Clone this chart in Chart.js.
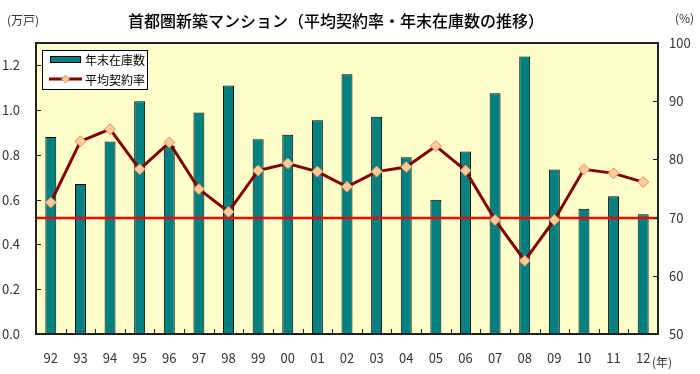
<!DOCTYPE html>
<html>
<head>
<meta charset="utf-8">
<script src="https://cdn.jsdelivr.net/npm/chart.js@4.4.1/dist/chart.umd.min.js"></script>
<style>
  html, body { margin: 0; padding: 0; background: #fff; }
  #wrap { width: 700px; height: 374px; }
</style>
</head>
<body>
<div id="wrap"><canvas id="chart" width="700" height="374"></canvas></div>
<script>
// data
const years = ['92','93','94','95','96','97','98','99','00','01','02','03','04','05','06','07','08','09','10','11','12'];
const stock = [0.88, 0.67, 0.86, 1.04, 0.84, 0.99, 1.11, 0.87, 0.89, 0.955, 1.16, 0.97, 0.79, 0.60, 0.815, 1.075, 1.24, 0.735, 0.56, 0.615, 0.535];
const rate = [72.6, 83.1, 85.2, 78.3, 82.9, 74.9, 71.0, 78.1, 79.3, 77.9, 75.3, 77.9, 78.7, 82.3, 78.1, 69.6, 62.6, 69.6, 78.3, 77.6, 76.1];
const leftTicks = [0, 0.2, 0.4, 0.6, 0.8, 1.0, 1.2];
const rightTicks = [50, 60, 70, 80, 90, 100];
const refRate = 70;

const title = '首都圏新築マンション（平均契約率・年末在庫数の推移）';
const stockLabel = '年末在庫数';
const rateLabel = '平均契約率';

const FONT = "'Noto Sans CJK JP', 'Noto Sans', sans-serif";
const teal = '#008080';
const maroon = '#800000';
const peach = '#FFCC99';

const extras = {
  id: 'extras',
  beforeDraw(chart) {
    const { ctx, chartArea: a } = chart;
    ctx.save();
    ctx.fillStyle = '#FFFFCC';
    ctx.fillRect(a.left, a.top, a.right - a.left, a.bottom - a.top);
    ctx.restore();
  },
  afterDatasetDraw(chart, args) {
    if (args.index !== 0) return;
    // reference line at 70%
    const { ctx, chartArea: a } = chart;
    const y = Math.round(chart.scales.y1.getPixelForValue(refRate));
    ctx.save();
    ctx.strokeStyle = '#FF0000';
    ctx.lineWidth = 2.5;
    ctx.beginPath();
    ctx.moveTo(a.left, y);
    ctx.lineTo(a.right, y);
    ctx.stroke();
    ctx.restore();
  },
  afterDraw(chart) {
    const { ctx, chartArea: a } = chart;
    const sx = chart.scales.x, sy = chart.scales.y, sy1 = chart.scales.y1;
    ctx.save();
    // plot frame
    ctx.strokeStyle = '#222';
    ctx.lineWidth = 2;
    ctx.strokeRect(a.left, a.top, a.right - a.left, a.bottom - a.top);
    // inward tick marks
    ctx.lineWidth = 1;
    ctx.beginPath();
    leftTicks.forEach(v => {
      const y = Math.round(sy.getPixelForValue(v)) + 0.5;
      ctx.moveTo(a.left, y); ctx.lineTo(a.left + 5, y);
    });
    rightTicks.forEach(v => {
      const y = Math.round(sy1.getPixelForValue(v)) + 0.5;
      ctx.moveTo(a.right, y); ctx.lineTo(a.right - 5, y);
    });
    for (let i = 1; i < years.length; i++) {
      const x = Math.round((sx.getPixelForValue(i - 1) + sx.getPixelForValue(i)) / 2) + 0.5;
      ctx.moveTo(x, a.bottom); ctx.lineTo(x, a.bottom - 5);
    }
    ctx.stroke();

    // title and unit labels
    ctx.fillStyle = '#000';
    ctx.textBaseline = 'middle';
    ctx.textAlign = 'center';
    ctx.font = '500 16px ' + FONT;
    ctx.fillText(title, 336, 21);
    ctx.fillStyle = '#333';
    ctx.font = '12px ' + FONT;
    ctx.textAlign = 'left';
    ctx.fillText('(万戸)', 7, 20);
    ctx.fillText('(%)', 675, 18);
    ctx.fillText('(年)', 652, 362);

    // legend box
    ctx.fillStyle = '#fff';
    ctx.fillRect(42, 50, 105, 39);
    ctx.strokeStyle = '#000';
    ctx.lineWidth = 1;
    ctx.strokeRect(42.5, 50.5, 105, 39);
    ctx.fillStyle = teal;
    ctx.fillRect(50, 56, 30, 6);
    ctx.strokeRect(50.5, 56.5, 30, 6);
    ctx.strokeStyle = maroon;
    ctx.lineWidth = 3;
    ctx.beginPath();
    ctx.moveTo(49, 79); ctx.lineTo(82, 79);
    ctx.stroke();
    ctx.fillStyle = peach;
    ctx.strokeStyle = '#D9905A';
    ctx.lineWidth = 1;
    ctx.beginPath();
    ctx.moveTo(65.5, 75); ctx.lineTo(69.5, 79); ctx.lineTo(65.5, 83); ctx.lineTo(61.5, 79); ctx.closePath();
    ctx.fill(); ctx.stroke();
    ctx.fillStyle = '#000';
    ctx.font = '12px ' + FONT;
    ctx.fillText(stockLabel, 85, 60);
    ctx.fillText(rateLabel, 85, 80);
    ctx.restore();
  }
};

new Chart(document.getElementById('chart').getContext('2d'), {
  data: {
    labels: years,
    datasets: [
      { type: 'bar', label: stockLabel, data: stock, yAxisID: 'y', backgroundColor: teal, borderColor: '#000', borderWidth: 1, barPercentage: 0.37, categoryPercentage: 1, order: 2 },
      { type: 'line', label: rateLabel, data: rate, yAxisID: 'y1', borderColor: maroon, borderWidth: 3, tension: 0, pointStyle: 'rectRot', pointRadius: 5.5, pointBackgroundColor: peach, pointBorderColor: '#D9905A', pointBorderWidth: 1, order: 1 }
    ]
  },
  options: {
    responsive: false,
    animation: false,
    devicePixelRatio: 1,
    layout: { padding: { top: 43, left: 0, right: 0, bottom: 0 } },
    plugins: { legend: { display: false }, tooltip: { enabled: false }, title: { display: false } },
    scales: {
      x: {
        offset: true,
        grid: { display: false, drawTicks: false },
        border: { display: false },
        ticks: { font: { family: FONT, size: 13 }, color: '#333', padding: 16, maxRotation: 0, autoSkip: false },
        afterFit(s) { s.height = 40; }
      },
      y: {
        position: 'left', min: 0, max: 1.3,
        grid: { display: false, drawTicks: false },
        border: { display: false },
        afterBuildTicks(s) { s.ticks = leftTicks.map(v => ({ value: v })); },
        ticks: { font: { family: FONT, size: 13 }, color: '#333', padding: 16, callback: v => v.toFixed(1) },
        afterFit(s) { s.width = 36; }
      },
      y1: {
        position: 'right', min: 50, max: 100,
        grid: { display: false, drawTicks: false },
        border: { display: false },
        afterBuildTicks(s) { s.ticks = rightTicks.map(v => ({ value: v })); },
        ticks: { font: { family: FONT, size: 13 }, color: '#333', padding: 11 },
        afterFit(s) { s.width = 42; }
      }
    }
  },
  plugins: [extras]
});
</script>
</body>
</html>
